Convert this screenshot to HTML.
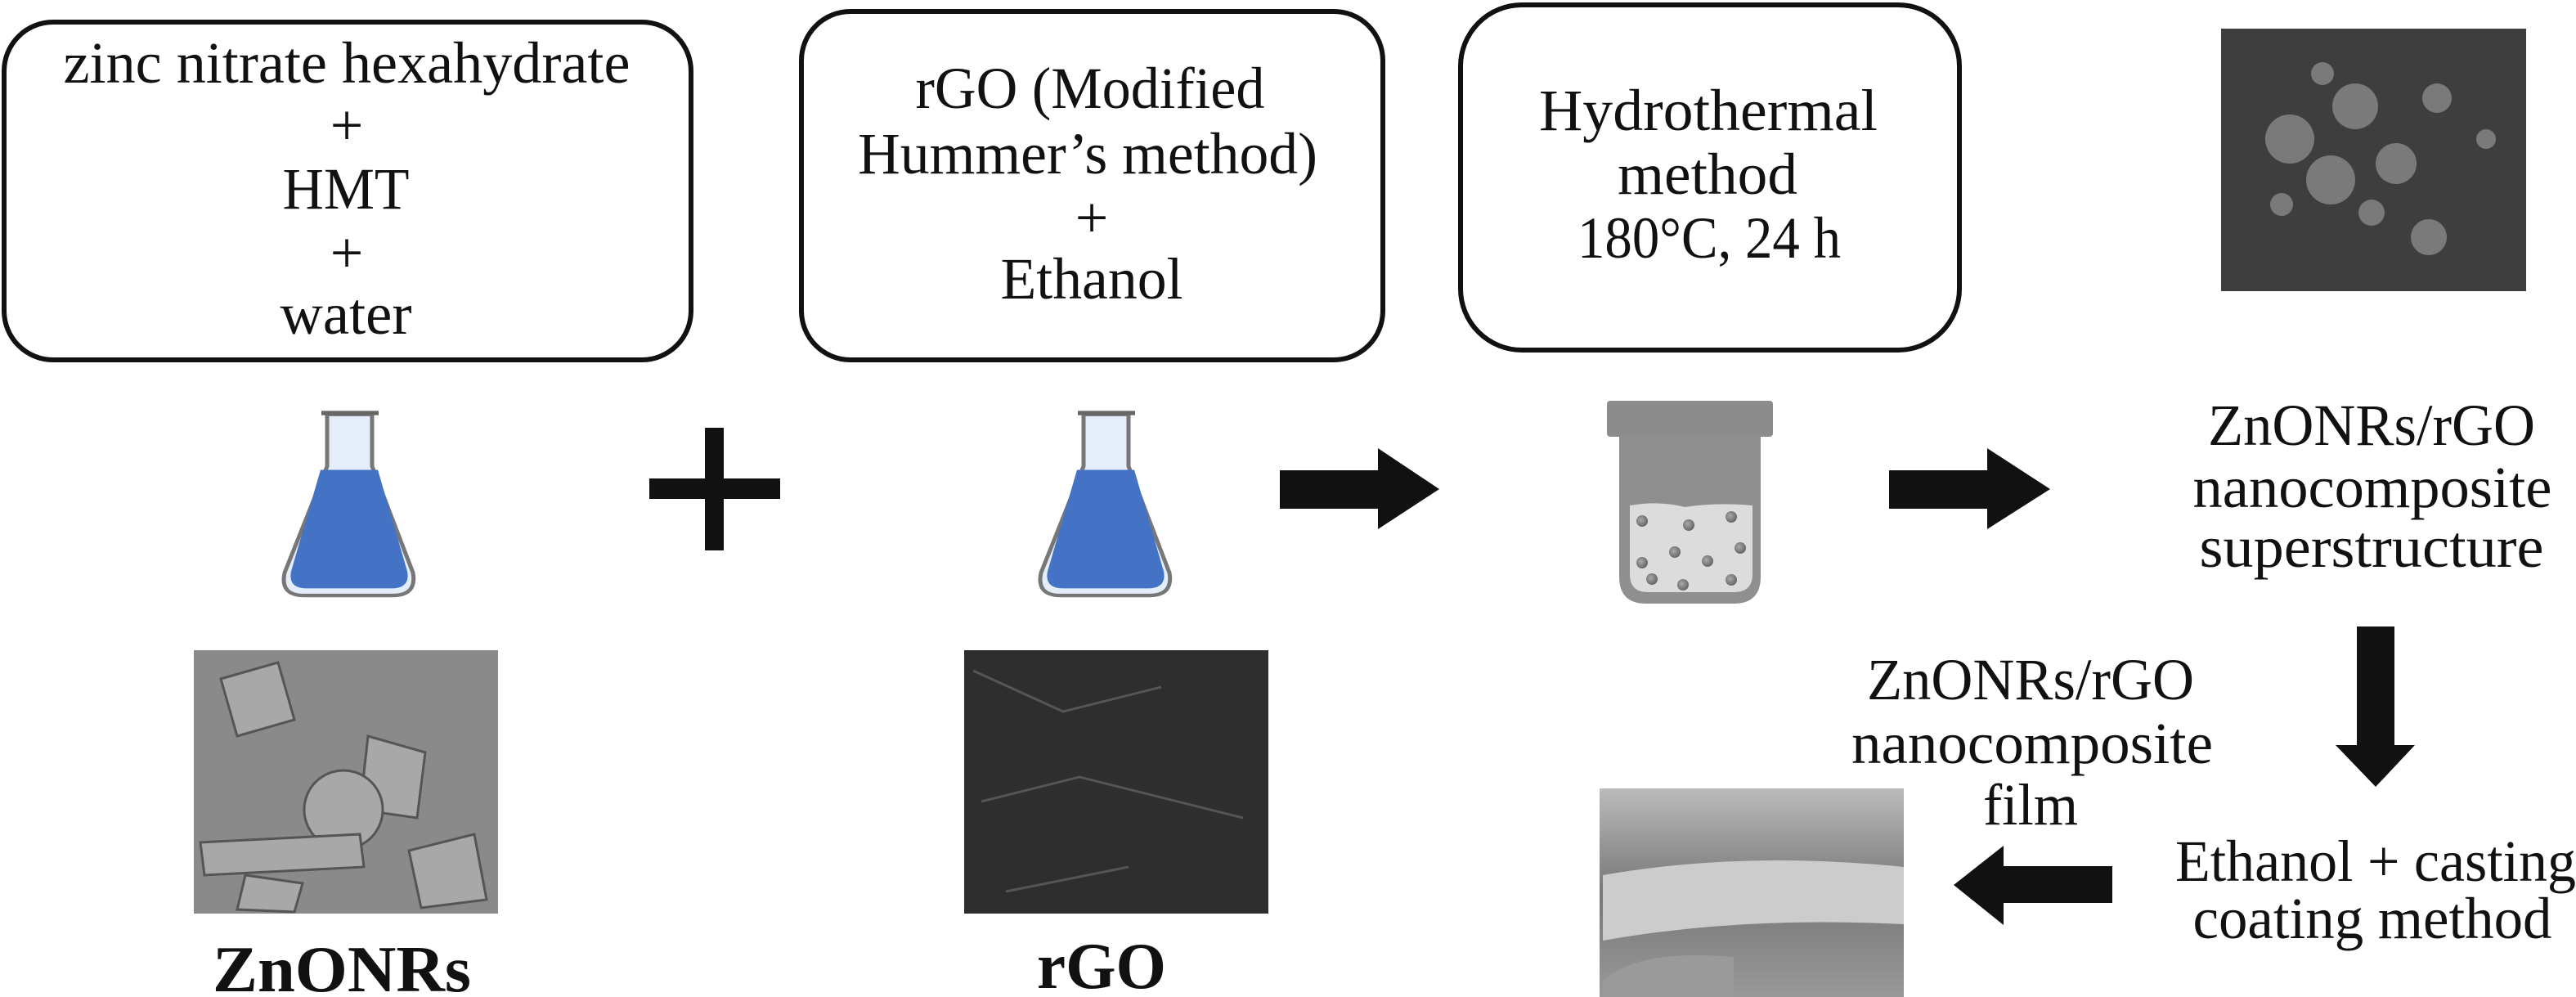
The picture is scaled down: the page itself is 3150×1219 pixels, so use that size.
<!DOCTYPE html>
<html><head><meta charset="utf-8"><style>
html,body{margin:0;padding:0;background:#fff;}
svg{display:block;}
text{font-family:"Liberation Serif",serif;fill:#111;}
</style></head><body>
<svg width="3150" height="1219" viewBox="0 0 3150 1219" xmlns="http://www.w3.org/2000/svg">
<defs>
<linearGradient id="semF" x1="0" y1="0" x2="0" y2="1"><stop offset="0" stop-color="#bbb"/><stop offset="0.5" stop-color="#777"/><stop offset="1" stop-color="#999"/></linearGradient>
<radialGradient id="ball" cx="40%" cy="40%" r="60%"><stop offset="0" stop-color="#aaa"/><stop offset="1" stop-color="#666"/></radialGradient>
</defs>

<rect x="5" y="27" width="840" height="413" rx="60" fill="none" stroke="#111" stroke-width="6"/>
<rect x="980" y="14" width="711" height="426" rx="60" fill="none" stroke="#111" stroke-width="6"/>
<rect x="1786" y="6" width="610" height="422" rx="75" fill="none" stroke="#111" stroke-width="6"/>

<g font-size="72" text-anchor="middle">
<text x="424" y="101" textLength="693" lengthAdjust="spacingAndGlyphs">zinc nitrate hexahydrate</text>
<text x="424" y="177">+</text>
<text x="423" y="255" textLength="155" lengthAdjust="spacingAndGlyphs">HMT</text>
<text x="424" y="333">+</text>
<text x="423" y="408" textLength="161" lengthAdjust="spacingAndGlyphs">water</text>

<text x="1333" y="132" textLength="427" lengthAdjust="spacingAndGlyphs">rGO (Modified</text>
<text x="1330" y="212" textLength="562" lengthAdjust="spacingAndGlyphs">Hummer’s method)</text>
<text x="1335" y="290">+</text>
<text x="1335" y="365" textLength="223" lengthAdjust="spacingAndGlyphs">Ethanol</text>

<text x="2089" y="159" textLength="414" lengthAdjust="spacingAndGlyphs">Hydrothermal</text>
<text x="2088" y="237" textLength="220" lengthAdjust="spacingAndGlyphs">method</text>
<text x="2090" y="315" textLength="322" lengthAdjust="spacingAndGlyphs">180°C, 24 h</text>

<text x="2900" y="544" textLength="400" lengthAdjust="spacingAndGlyphs">ZnONRs/rGO</text>
<text x="2901" y="620" textLength="439" lengthAdjust="spacingAndGlyphs">nanocomposite</text>
<text x="2900" y="693" textLength="421" lengthAdjust="spacingAndGlyphs">superstructure</text>

<text x="2483" y="855" textLength="400" lengthAdjust="spacingAndGlyphs">ZnONRs/rGO</text>
<text x="2485" y="933" textLength="442" lengthAdjust="spacingAndGlyphs">nanocomposite</text>
<text x="2483" y="1008" textLength="116" lengthAdjust="spacingAndGlyphs">film</text>

<text x="2905" y="1077" textLength="490" lengthAdjust="spacingAndGlyphs">Ethanol + casting</text>
<text x="2901" y="1147" textLength="439" lengthAdjust="spacingAndGlyphs">coating method</text>
</g>
<g font-size="80" font-weight="bold" text-anchor="middle">
<text x="418" y="1212" textLength="316" lengthAdjust="spacingAndGlyphs">ZnONRs</text>
<text x="1347" y="1208" textLength="158" lengthAdjust="spacingAndGlyphs">rGO</text>
</g>

<g id="flask" transform="translate(0,505) scale(1,0.868) translate(0,-505)">
<path d="M400 507 L455 507 L455 580 L505 730 Q510 762 480 762 L372 762 Q342 762 348 730 L400 580 Z" fill="#e3eefa" stroke="#777" stroke-width="5"/>
<path d="M393 505 L463 505" stroke="#666" stroke-width="6"/>
<path d="M392 585 L462 585 L498 728 Q502 752 478 752 L375 752 Q352 752 356 728 Z" fill="#4472c4"/>
</g>
<use href="#flask" transform="translate(925,0)"/>

<rect x="862" y="523" width="23" height="150" fill="#111"/>
<rect x="794" y="585" width="160" height="25" fill="#111"/>

<path d="M1565 575 L1685 575 L1685 548 L1760 598 L1685 647 L1685 622 L1565 622 Z" fill="#111"/>
<path d="M2310 575 L2430 575 L2430 548 L2507 598 L2430 647 L2430 622 L2310 622 Z" fill="#111"/>
<path d="M2882 766 L2928 766 L2928 911 L2953 911 L2905 962 L2856 911 L2882 911 Z" fill="#111"/>
<path d="M2583 1059 L2583 1104 L2450 1104 L2450 1131 L2389 1082 L2450 1034 L2450 1059 Z" fill="#111"/>

<rect x="1965" y="490" width="203" height="44" rx="4" fill="#8c8c8c"/>
<path d="M1980 534 L2153 534 L2153 705 Q2153 738 2120 738 L2013 738 Q1980 738 1980 705 Z" fill="#8f8f8f"/>
<path d="M1993 618 Q2030 612 2060 620 Q2100 614 2143 618 L2143 702 Q2143 724 2120 724 L2015 724 Q1993 724 1993 702 Z" fill="#dcdcdc"/>
<g fill="url(#ball)">
<circle cx="2008" cy="637" r="7"/><circle cx="2065" cy="642" r="7"/><circle cx="2117" cy="632" r="7"/>
<circle cx="2048" cy="675" r="7"/><circle cx="2128" cy="670" r="7"/><circle cx="2088" cy="686" r="7"/>
<circle cx="2008" cy="688" r="7"/><circle cx="2020" cy="708" r="7"/><circle cx="2058" cy="715" r="7"/><circle cx="2117" cy="709" r="7"/>
</g>

<rect x="237" y="795" width="372" height="322" fill="#8a8a8a"/>
<g fill="#a8a8a8" stroke="#555" stroke-width="3">
<polygon points="270,830 340,810 360,880 290,900"/>
<polygon points="450,900 520,920 510,1000 440,990"/>
<circle cx="420" cy="990" r="48"/>
<polygon points="245,1030 440,1020 445,1060 250,1070"/>
<polygon points="500,1040 580,1020 595,1100 515,1110"/>
<polygon points="300,1070 370,1080 360,1115 290,1112"/>
</g>
<rect x="1179" y="795" width="372" height="322" fill="#2e2e2e"/>
<path d="M1190 820 L1300 870 L1420 840 M1200 980 L1320 950 L1520 1000 M1230 1090 L1380 1060" stroke="#555" stroke-width="3" fill="none"/>
<rect x="2716" y="35" width="373" height="321" fill="#3e3e3e"/>
<g fill="#7a7a7a">
<circle cx="2800" cy="170" r="30"/><circle cx="2880" cy="130" r="28"/><circle cx="2930" cy="200" r="25"/>
<circle cx="2850" cy="220" r="30"/><circle cx="2970" cy="290" r="22"/><circle cx="2790" cy="250" r="14"/><circle cx="2840" cy="90" r="14"/>
<circle cx="2980" cy="120" r="18"/><circle cx="2900" cy="260" r="16"/><circle cx="3040" cy="170" r="12"/>
</g>
<rect x="1956" y="964" width="372" height="255" fill="url(#semF)"/>
<path d="M1960 1070 Q2130 1040 2328 1060 L2328 1130 Q2130 1120 1960 1150 Z" fill="#ccc"/>
<path d="M1960 1200 Q2000 1160 2120 1170 L2120 1219 L1960 1219 Z" fill="#9a9a9a"/>
</svg>
</body></html>
